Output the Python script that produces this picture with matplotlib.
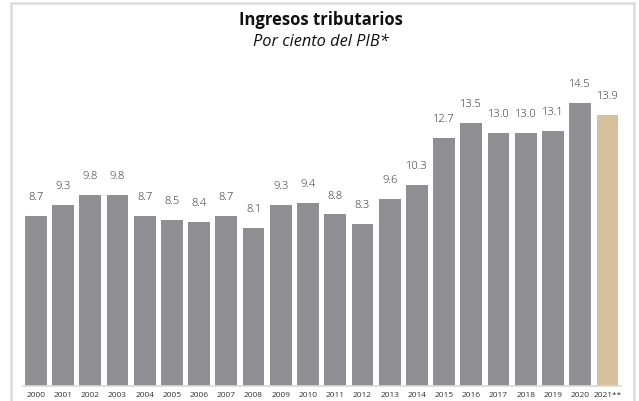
import matplotlib
matplotlib.use("Agg")
import matplotlib.pyplot as plt
from matplotlib.lines import Line2D

years = ["2000", "2001", "2002", "2003", "2004", "2005", "2006", "2007", "2008", "2009", "2010",
         "2011", "2012", "2013", "2014", "2015", "2016", "2017", "2018", "2019", "2020", "2021**"]
values = [8.7, 9.3, 9.8, 9.8, 8.7, 8.5, 8.4, 8.7, 8.1, 9.3, 9.4,
          8.8, 8.3, 9.6, 10.3, 12.7, 13.5, 13.0, 13.0, 13.1, 14.5, 13.9]
labels = ["8.7", "9.3", "9.8", "9.8", "8.7", "8.5", "8.4", "8.7", "8.1", "9.3", "9.4",
          "8.8", "8.3", "9.6", "10.3", "12.7", "13.5", "13.0", "13.0", "13.1", "14.5", "13.9"]

GRAY = "#8f8e93"
TAN = "#d5c29d"
colors = [GRAY] * (len(values) - 1) + [TAN]

plt.rcParams['font.family'] = ['Open Sans', 'DejaVu Sans']

W, H = 639, 402
fig = plt.figure(figsize=(W / 100, H / 100), dpi=100)

# frame border (open at bottom)
bc = "#dcdcdc"
fig.add_artist(Line2D([10.5 / W, 10.5 / W], [0, 1 - 3.5 / H], transform=fig.transFigure, color=bc, lw=1.8))
fig.add_artist(Line2D([10.5 / W, 633.5 / W], [1 - 3.5 / H, 1 - 3.5 / H], transform=fig.transFigure, color=bc, lw=1.8))
fig.add_artist(Line2D([633.5 / W, 633.5 / W], [0, 1 - 3.5 / H], transform=fig.transFigure, color=bc, lw=1.8))

left_px, right_px = 23, 621
bottom_px, top_px = 387, 60
ax = fig.add_axes([left_px / W, (H - bottom_px) / H, (right_px - left_px) / W, (bottom_px - top_px) / H])

x = list(range(len(values)))
ax.bar(x, values, width=0.8, color=colors, zorder=2)
for xi, v, lab in zip(x, values, labels):
    ax.annotate(lab, (xi, v), xytext=(0, 10), textcoords="offset points",
                ha="center", va="bottom", fontsize=8, color="#2a2a2a", fontweight="light")

ax.set_xlim(-0.47, len(values) - 0.5)
ax.set_ylim(0, (bottom_px - top_px) / 19.5)
ax.set_xticks(x)
ax.set_xticklabels(years, fontsize=6, color="#333333")
ax.tick_params(axis="x", length=0, pad=3.5)
ax.set_yticks([])
for s in ["top", "right", "left"]:
    ax.spines[s].set_visible(False)
ax.spines["bottom"].set_color("#d9d9d9")
ax.spines["bottom"].set_linewidth(1.2)

fig.text(321 / W, 1 - 20 / H, "Ingresos tributarios", ha="center", va="center",
         fontsize=12, fontweight="bold", color="#111111")
fig.text(321 / W, 1 - 42 / H, "Por ciento del PIB*", ha="center", va="center",
         fontsize=11.8, fontstyle="italic", color="#111111")

fig.savefig("out.png", dpi=100)
